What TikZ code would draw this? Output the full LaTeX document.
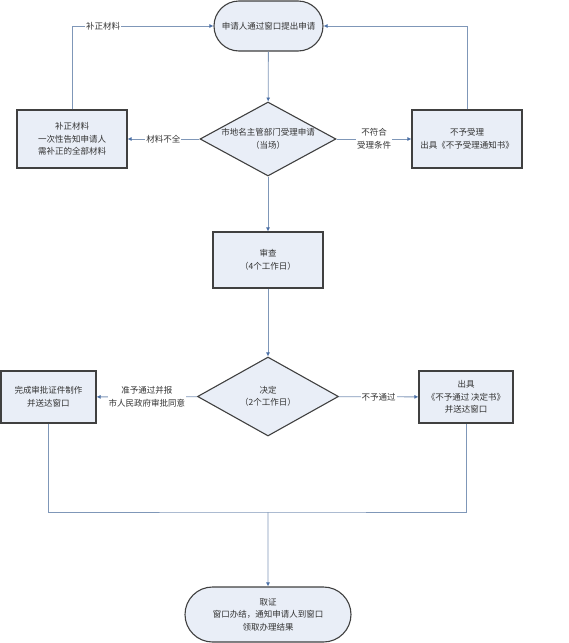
\documentclass[tikz,border=0pt]{standalone}
\usepackage{fontspec}
\setmainfont{Noto Sans CJK SC}
\usepackage{xcolor}
\usepackage{tikz}
\usetikzlibrary{shapes,positioning,arrows.meta}
\definecolor{boxfill}{HTML}{E9EEF7}
\definecolor{boxline}{HTML}{404040}
\definecolor{wire}{HTML}{7F97B8}
\definecolor{tip}{HTML}{4A6FA5}
\definecolor{txt}{HTML}{333333}
\tikzset{box/.style={rectangle,draw=boxline,fill=boxfill,line width=1.1pt,align=center,text=txt,inner sep=2pt},
         term/.style={rounded rectangle,draw=boxline,fill=boxfill,line width=1.1pt,align=center,text=txt,inner sep=2pt},
         choice/.style={diamond,draw=boxline,fill=boxfill,line width=1.1pt,align=center,text=txt,inner sep=0pt},
         lab/.style={fill=white,align=center,text=txt,inner sep=1pt},
         wire/.style={draw=wire,line width=0.8pt}}

\begin{document}
\begin{tikzpicture}[x=1pt,y=-1pt,>={Latex[length=4pt,width=4pt,color=tip]},font=\fontsize{8.5}{12.5}\selectfont]
    \useasboundingbox (0,0) rectangle (569,643);

    \node[term,minimum width=113pt,minimum height=50pt] (top) at (268.5,26) {申请人通过窗口提出申请};
    \node[choice,shape aspect=1.84,minimum width=136pt,minimum height=74pt] (acc) at (268,139) {市地名主管部门受理申请\\（当场）};
    \node[box,minimum width=110pt,minimum height=58pt] (fix) at (72,139) {补正材料\\一次性告知申请人\\需补正的全部材料};
    \node[box,minimum width=110pt,minimum height=58pt] (rej) at (467,139) {不予受理\\出具《不予受理通知书》};
    \node[box,minimum width=110pt,minimum height=56pt] (chk) at (268,260) {审查\\（4个工作日）};
    \node[choice,shape aspect=1.78,minimum width=141pt,minimum height=79pt] (dec) at (268,396.5) {决定\\（2个工作日）};
    \node[box,minimum width=95pt,minimum height=52pt] (ok) at (48.5,397) {完成审批证件制作\\并送达窗口};
    \node[box,minimum width=94pt,minimum height=52pt] (no) at (466,397) {出具\\《不予通过 决定书》\\并送达窗口};
    \node[term,minimum width=170pt,minimum height=55pt] (end) at (268,614.5) {取证\\窗口办结，通知申请人到窗口\\领取办理结果};
    \coordinate (m) at (268,512);

    \draw [->,wire] (top) to []node[]{} (acc);
    \draw [->,wire] (acc) to []node[lab]{材料不全} (fix);
    \draw [->,wire] (acc) to []node[lab]{不符合\\受理条件} (rej);
    \draw [->,wire] (fix.north) |- node[lab,pos=0.61]{补正材料} (top.west);
    \draw [->,wire] (rej.north) |- (top.east);
    \draw [->,wire] (acc) to []node[]{} (chk);
    \draw [->,wire] (chk) to []node[]{} (dec);
    \draw [->,wire] (dec) to []node[lab]{准予通过并报\\市人民政府审批同意} (ok);
    \draw [->,wire] (dec) to []node[lab]{不予通过} (no);
    \draw [wire] (ok.south) |- (m) -| (no.south);
    \draw [->,wire] (m) to []node[]{} (end);
\end{tikzpicture}
\end{document}
